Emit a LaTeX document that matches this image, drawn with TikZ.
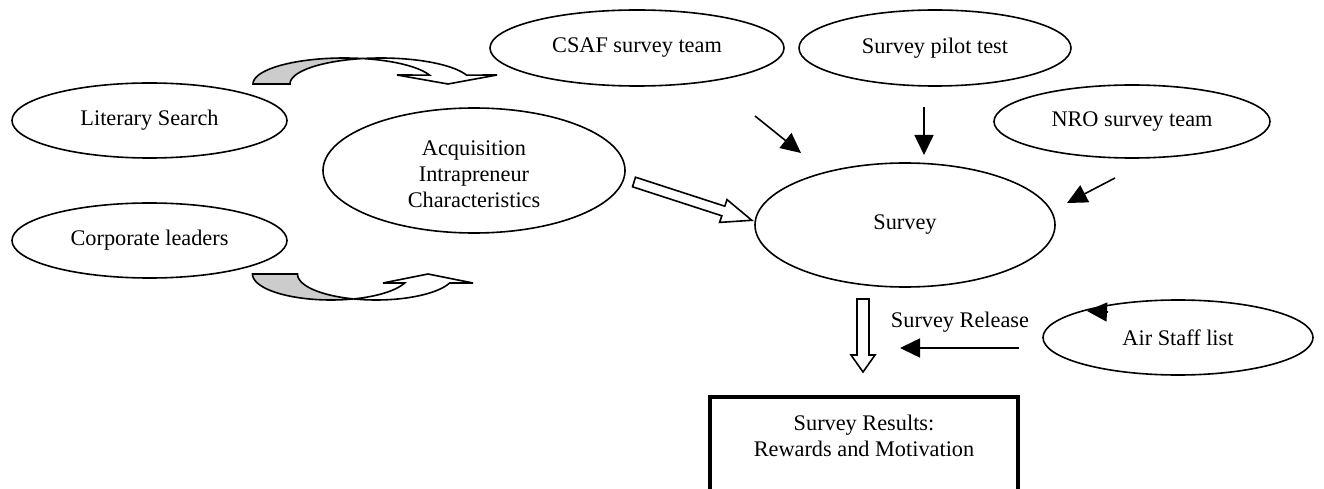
\documentclass[tikz,border=0pt]{standalone}
\usepackage{fontspec}
\setmainfont{Liberation Serif}
\usetikzlibrary{shapes.geometric,arrows.meta}
\begin{document}
\begin{tikzpicture}[x=1pt,y=-1pt,
  font=\fontsize{22.3}{26}\selectfont,
  ell/.style={draw, ellipse, line width=1.6pt, inner sep=0pt, align=center},
  arr/.style={line width=1.6pt, -{Triangle[length=20pt,width=19pt]}},
  blockarr/.style={draw, line width=1.6pt, fill=white, line join=miter},
  curvefill/.style={draw, line width=1.6pt, fill={rgb,255:red,204;green,204;blue,204}},
  curvewhite/.style={draw, line width=1.6pt, fill=white},
  resbox/.style={draw, line width=4pt, minimum width=308pt, minimum height=130pt, inner sep=0pt},
  lbl/.style={inner sep=0pt, align=center}]
\useasboundingbox (0,0) rectangle (1324,489);
\clip (0,0) rectangle (1324,489);

% ellipses
\node[ell, minimum width=275pt, minimum height=75pt] (lit) at (149.5,120.5) {Literary Search};
\node[ell, minimum width=275pt, minimum height=75pt] (corp) at (149.5,240.5) {Corporate leaders};
\node[ell, minimum width=302pt, minimum height=125pt] (acq) at (474,170.5) {\rule{0pt}{23pt}Acquisition\\Intrapreneur\\Characteristics};
\node[ell, minimum width=294pt, minimum height=76pt] (csaf) at (637,48) {CSAF survey team};
\node[ell, minimum width=272pt, minimum height=76pt] (pilot) at (935,48) {Survey pilot test};
\node[ell, minimum width=276pt, minimum height=73pt] (nro) at (1132,121.5) {NRO survey team};
\node[ell, minimum width=300pt, minimum height=124pt] (survey) at (905,225) {Survey};
\node[ell, minimum width=270pt, minimum height=75pt] (air) at (1178,337.5) {Air Staff list};

% result box (open at the bottom edge of the picture)
\node[resbox] (res) at (864,462) {};
\node[lbl] (restext) at (864,436) {Survey Results:\\Rewards and Motivation};

% label
\node[lbl] (rel) at (960,322) {Survey Release};

% black arrows
\coordinate (c0) at (755,116);  \coordinate (c1) at (801,153);
\coordinate (p0) at (924,107);  \coordinate (p1) at (924,155);
\coordinate (n0) at (1115,178); \coordinate (n1) at (1067,203);
\coordinate (r0) at (1019,348); \coordinate (r1) at (900,348);
\coordinate (a0) at (1108,312); \coordinate (a1) at (1087,311);
\draw[arr] (c0) -- (c1);
\draw[arr] (p0) -- (p1);
\draw[arr] (n0) -- (n1);
\draw[arr] (r0) -- (r1);
\draw[arr] (a0) -- (a1);

% hollow block arrow: acquisition -> survey
\draw[blockarr] (635.5,177.2) -- (724.8,206.2) -- (727,199.6) -- (751.8,220.3)
  -- (719.6,222.4) -- (721.8,215.8) -- (632.5,186.8) -- cycle;

% hollow block arrow: survey -> results
\draw[blockarr] (857,299) -- (869,299) -- (869,355) -- (875,355) -- (863,372)
  -- (851,355) -- (857,355) -- cycle;

% curved arrow (top)
\path[curvefill] plot[domain=180:281.7,samples=40] ({344+91*cos(\x)},{84+26*sin(\x)})
  -- plot[domain=258.3:180,samples=40] ({381+91*cos(\x)},{84+26*sin(\x)}) -- cycle;
\path[curvewhite] plot[domain=281.7:340,samples=30] ({344+91*cos(\x)},{84+26*sin(\x)})
  -- (397,75) -- (448,84) -- (497,75)
  -- plot[domain=340:258.3,samples=30] ({381+91*cos(\x)},{84+26*sin(\x)}) -- cycle;

% curved arrow (bottom)
\path[curvefill] plot[domain=180:73.3,samples=40] ({331+78.5*cos(\x)},{274+26*sin(\x)})
  -- plot[domain=106.7:180,samples=40] ({376+78.5*cos(\x)},{274+26*sin(\x)}) -- cycle;
\path[curvewhite] plot[domain=73.3:20.3,samples=30] ({331+78.5*cos(\x)},{274+26*sin(\x)})
  -- (383,283) -- (428,274) -- (473,283)
  -- plot[domain=20.3:106.7,samples=30] ({376+78.5*cos(\x)},{274+26*sin(\x)}) -- cycle;
\end{tikzpicture}
\end{document}
